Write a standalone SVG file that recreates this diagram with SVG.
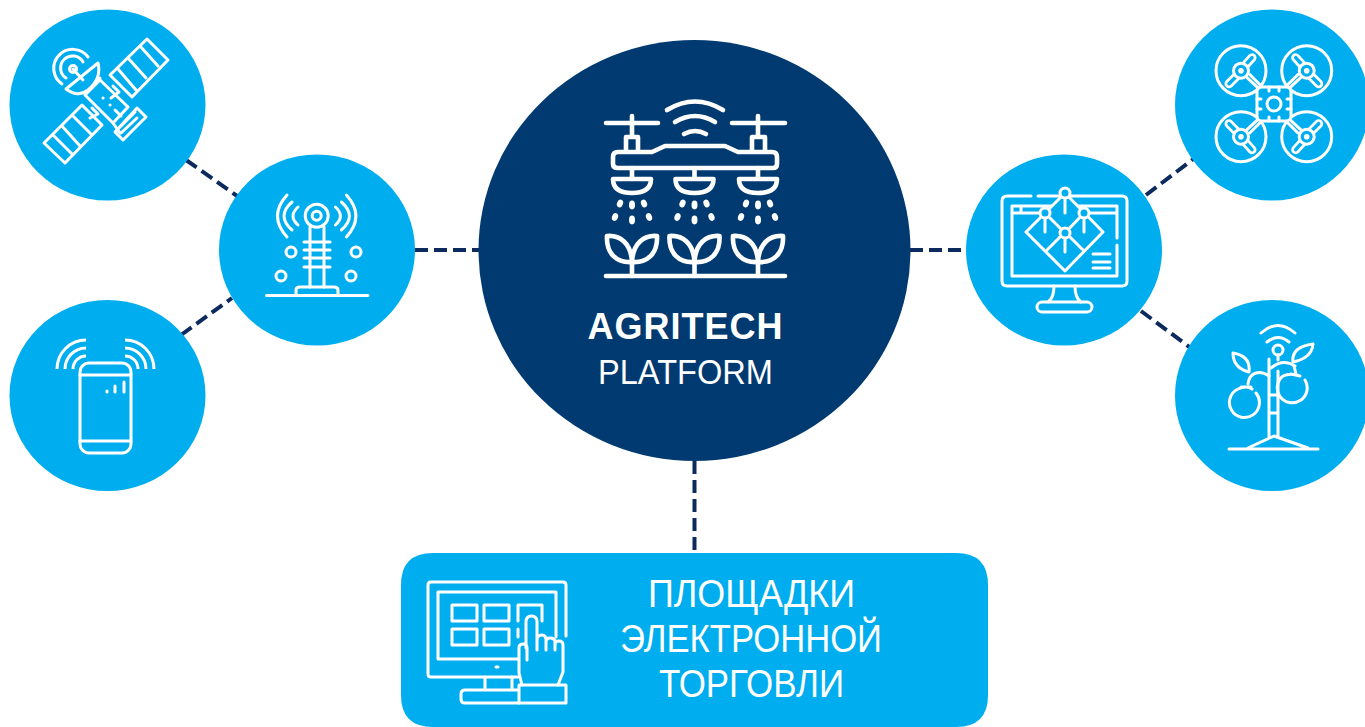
<svg xmlns="http://www.w3.org/2000/svg" width="1365" height="727" viewBox="0 0 1365 727">
<style>
.blue{fill:#00AEEF}
.navy{fill:#003A70}
.conn{stroke:#0D2A5E;stroke-width:4;stroke-dasharray:13 6;fill:none}
.ic{fill:none;stroke:#fff;stroke-width:3;stroke-linecap:round;stroke-linejoin:round}
.icb{fill:#00AEEF;stroke:#fff;stroke-width:3;stroke-linecap:round;stroke-linejoin:round}
.big{fill:none;stroke:#fff;stroke-width:4.600;stroke-linecap:round;stroke-linejoin:round}
.w{fill:#fff}
text{fill:#fff;font-family:"Liberation Sans",Arial,sans-serif;text-anchor:middle}
</style>
<defs>
<g id="rotor">
<circle class="ic" r="25"/>
<path class="ic" d="M6 7L20 20M9 4L22 17"/>
<path d="M2-3L11-13M-2 3L-12 13" fill="none" stroke="#fff" stroke-width="9" stroke-linecap="round"/>
<path d="M2-3L11-13M-2 3L-12 13" fill="none" stroke="#00AEEF" stroke-width="3.500" stroke-linecap="round"/>
<circle class="icb" r="7.500"/>
<circle class="w" r="2.800"/>
</g>
<g id="plant">
<path class="big" d="M-25 236C-12 235-1 243 0 262C-15 263-26 254-25 236ZM25 236C12 235 1 243 0 262C15 263 26 254 25 236ZM0 258V276"/>
</g>
<g id="spray">
<path class="big" d="M0 168V178M-19 179H19Q19 193 0 193Q-19 193-19 179Z"/>
<g class="w"><ellipse cx="-12" cy="203.500" rx="3" ry="4" transform="rotate(20 -12 203.500)"/><ellipse cy="205" rx="3" ry="4.400"/><ellipse cx="12" cy="203.500" rx="3" ry="4" transform="rotate(-20 12 203.500)"/><ellipse cx="-17" cy="217" rx="3" ry="4" transform="rotate(20 -17 217)"/><ellipse cy="220" rx="3" ry="4.400"/><ellipse cx="17" cy="217" rx="3" ry="4" transform="rotate(-20 17 217)"/></g>
</g>
</defs>

<g id="connectors">
<path class="conn" d="M186 160L240 198"/>
<path class="conn" d="M181 335L232 298"/>
<path class="conn" d="M415 250H479"/>
<path class="conn" d="M910 250H967"/>
<path class="conn" d="M1146 195L1196 157"/>
<path class="conn" d="M1141 311L1192 349"/>
<path class="conn" d="M694.500 461V553"/>
</g>

<g id="node-platform">
<ellipse class="navy" cx="694.500" cy="250.500" rx="216" ry="210.500"/>
<path class="big" d="M667 110Q695 93 723 110M675 122Q695 110 715 122M684 134Q695 128 706 134"/>
<path class="big" d="M606 123H658M632 116V135M626 150V137H638V150M732 123H785M758 116V135M752 150V137H765V150"/>
<path class="big" d="M618 152H652L665 146H725L738 152H772Q777 152 777 157V164Q777 168 773 168H618Q613 168 613 164V157Q613 152 618 152Z"/>
<use href="#spray" x="632"/><use href="#spray" x="694.500"/><use href="#spray" x="758"/>
<use href="#plant" x="632"/><use href="#plant" x="694.500"/><use href="#plant" x="758"/>
<path class="big" d="M606 276H785"/>
<text x="685" y="339" font-size="36" font-weight="700" textLength="195" lengthAdjust="spacing">AGRITECH</text>
<text x="685.500" y="384" font-size="35" textLength="175" lengthAdjust="spacingAndGlyphs">PLATFORM</text>
</g>

<g id="node-satellite">
<ellipse class="blue" cx="107.500" cy="105" rx="98" ry="95.500"/>
<path class="ic" d="M147 39L168 60L132 97L110 75ZM140 46L158 66M128 58L146 78M118 69L136 90M82 105L102 125L65 163L44 143ZM72 115L92 135M62 126L80 146M53 135L72 154"/>
<path class="ic" d="M100 80L128 107L113 123L85 95ZM137 108L146 117L123 140L115 132ZM119 128L135 112M121 133L137 118"/>
<path class="ic" d="M113 86L119 92L111 98M92 108L98 114L90 118M90 88L100 78M113 123L120 133"/>
<path class="icb" d="M66 89L98 63Q102 78 88 90Q78 98 66 89Z"/>
<path class="ic" d="M73 69L83 80M62 84A19 19 0 1 1 88 57M66 78A12 12 0 1 1 83 62"/>
<circle class="ic" cx="73" cy="69" r="3.500"/>
<path class="ic" d="M103 98h.1M110 105h.1M115 110L121 116"/>
</g>

<g id="node-tower">
<ellipse class="blue" cx="317" cy="250" rx="98" ry="95.500"/>
<circle class="ic" cx="316.700" cy="215.700" r="11.500"/>
<circle class="ic" cx="316.700" cy="215.700" r="4.500"/>
<path class="ic" d="M287 195Q268 216 287 237M292 202Q276 216 292 230M298 207Q288 216 298 225M346.400 195Q365.400 216 346.400 237M341.400 202Q357.400 216 341.400 230M335.400 207Q345.400 216 335.400 225"/>
<path class="ic" d="M310 227V287M324 227V287M304 242H330M304 250H330M304 258H330M304 267H330"/>
<path class="ic" d="M266.500 295.500H368M296 295V290Q296 287 300 287H334Q338 287 338 290V295"/>
<circle class="ic" cx="291" cy="252" r="5"/><circle class="ic" cx="356" cy="252" r="5"/><circle class="ic" cx="281" cy="276" r="5"/><circle class="ic" cx="351" cy="276" r="5"/>
</g>

<g id="node-phone">
<ellipse class="blue" cx="107.500" cy="395.500" rx="98" ry="95.500"/>
<rect class="ic" x="80" y="363" width="51" height="90" rx="9"/>
<path class="ic" d="M80 375H131M80 441H131M107 391V392M115 386V392M124 382V392"/>
<path class="ic" stroke-linecap="butt" d="M86 340A29 29 0 0 0 57 369M86 348A21 21 0 0 0 65 369M86 356A13 13 0 0 0 73 369M125 340A29 29 0 0 1 154 369M125 348A21 21 0 0 1 146 369M125 356A13 13 0 0 1 138 369" style="stroke-linecap:butt"/>
</g>

<g id="node-quadcopter">
<ellipse class="blue" cx="1272" cy="105" rx="97" ry="95.500"/>
<use href="#rotor" transform="translate(1241 70.700)"/>
<use href="#rotor" transform="translate(1306.700 70.700) scale(-1 1)"/>
<use href="#rotor" transform="translate(1241 136.700) scale(1 -1)"/>
<use href="#rotor" transform="translate(1306.700 136.700) scale(-1 -1)"/>
<rect class="icb" x="1257" y="87" width="34" height="34" rx="5"/>
<circle class="ic" cx="1274" cy="104" r="7"/>
<path class="ic" d="M1269 87V91M1279 87V91M1269 117V121M1279 117V121M1257 99H1261M1257 109H1261M1287 99H1291M1287 109H1291"/>
</g>

<g id="node-monitor">
<ellipse class="blue" cx="1064" cy="250" rx="98" ry="95.500"/>
<path class="ic" d="M1031 196H1007Q1002 196 1002 201V281Q1002 286 1007 286H1122Q1127 286 1127 281V201Q1127 196 1122 196H1038"/>
<path class="ic" d="M1012 206H1117V238M1117 245V276H1012V206M1012 213H1117M1021 206V213"/>
<path class="ic" d="M1054 286Q1054 298 1048 302M1075 286Q1075 298 1081 302"/>
<rect class="ic" x="1037" y="302" width="55" height="10" rx="5"/>
<path class="icb" d="M1065 193L1103 232L1065 271L1026 232Z"/>
<path class="ic" d="M1045 213L1065 233L1084 213M1047 250L1060 237M1070 237L1083 250M1065 193V213M1045 213V232M1084 213V232M1065 233V252"/>
<circle class="icb" cx="1065" cy="193" r="5"/><circle class="icb" cx="1045" cy="213" r="5"/><circle class="icb" cx="1084" cy="213" r="5"/><circle class="icb" cx="1065" cy="233" r="5"/>
<path class="ic" d="M1093 254H1110M1093 262H1110M1093 268H1110"/>
</g>

<g id="node-tree">
<ellipse class="blue" cx="1272" cy="395.500" rx="97" ry="95.500"/>
<path class="ic" d="M1261 333Q1278 318 1295 333M1267 342Q1278 333 1289 342"/>
<circle class="ic" cx="1278" cy="350" r="5"/>
<path class="ic" d="M1229 449H1318M1248 448L1274 436L1308 448M1269 359V436M1278 371V436M1269 395H1278M1269 413H1278"/>
<path class="ic" d="M1278 355V360M1271 368Q1283 358 1295 366M1269 376Q1262 371 1256 373Q1249 375 1248 384M1294 366L1296 374"/>
<path class="ic" d="M1313 344Q1312 358 1293 362Q1291 347 1313 344ZM1233 353Q1233 368 1249 372Q1251 356 1233 353Z"/>
<path class="ic" d="M1256 393A15 15 0 1 1 1238 389Q1247 385 1252 389M1305 380A15 15 0 1 1 1283 376Q1289 373 1296 375M1241 387L1251 387M1291 374L1300 376"/>
</g>

<g id="node-trading">
<path class="blue" d="M433 553H956Q988 553 988 585V695Q988 727 956 727H433Q401 727 401 695V585Q401 553 433 553Z"/>
<path class="ic" d="M518 677H431Q428 677 428 674V585Q428 582 431 582H563Q566 582 566 585V636"/>
<path class="ic" d="M518 659H438V592H556V637"/>
<rect class="ic" x="452" y="605" width="25" height="16"/><rect class="ic" x="484" y="605" width="25" height="16"/>
<rect class="ic" x="452" y="629" width="25" height="16"/><rect class="ic" x="484" y="629" width="25" height="16"/>
<path class="ic" d="M518 621V605H542V621M518 629V637"/>
<path class="ic" d="M496 667H498M485 677V690M512 677V690M518 690H465Q461 690 461 694V699Q461 703 465 703H519"/>
<path class="blue" d="M524 685L519 673V648Q519 644 523 644L526 648V622Q526 616 531.500 616Q537 616 537 622V636L546 638L555 641L563 643V672L558 685Z"/>
<path class="ic" d="M522 685L519 673V648Q519 644 523 644Q527 644 527 648V660M526 648V622Q526 616 531.500 616Q537 616 537 622V650M537 640Q537 635 542 635Q546 635 546 640V650M546 642Q546 638 550 638Q555 638 555 642V650M555 645Q555 641 559 641Q563 641 563 645V672L558 685"/>
<rect class="ic" x="519" y="685" width="47" height="18"/>
<text x="751.500" y="607" font-size="38" textLength="207" lengthAdjust="spacingAndGlyphs">ПЛОЩАДКИ</text>
<text x="751" y="652" font-size="38" textLength="262" lengthAdjust="spacingAndGlyphs">ЭЛЕКТРОННОЙ</text>
<text x="751.500" y="697" font-size="38" textLength="185" lengthAdjust="spacingAndGlyphs">ТОРГОВЛИ</text>
</g>
</svg>
